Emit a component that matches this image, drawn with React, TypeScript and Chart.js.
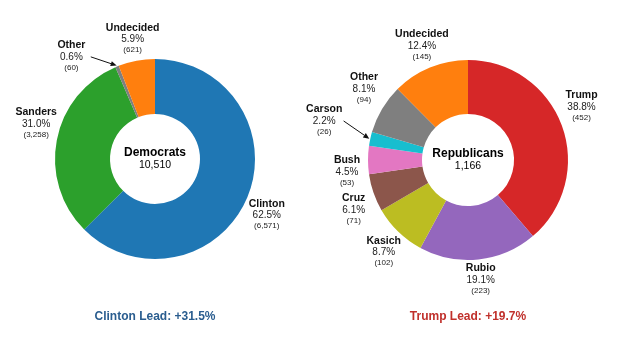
import React, { useEffect, useRef } from "react";
import { Chart, registerables } from "chart.js";

Chart.register(...registerables);

// ---- Data ----
const demCandidates = ["Clinton", "Sanders", "Other", "Undecided"];
const demVotes = [6571, 3258, 60, 621];
const demColors = ["#1f77b4", "#2ca02c", "#7f7f7f", "#ff7f0e"];

const repCandidates = ["Trump", "Rubio", "Kasich", "Cruz", "Bush", "Carson", "Other", "Undecided"];
const repVotes = [452, 223, 102, 71, 53, 26, 94, 145];
const repColors = ["#d62728", "#9467bd", "#bcbd22", "#8c564b", "#e377c2", "#17becf", "#7f7f7f", "#ff7f0e"];

const FONT = "'Liberation Sans', Arial, Helvetica, sans-serif";

const donutLabels = {
  id: "donutLabels",
  afterDatasetsDraw(chart: any, _args: any, opts: any) {
    const ctx: CanvasRenderingContext2D = chart.ctx;
    const meta = chart.getDatasetMeta(0);
    const data = chart.data.datasets[0].data as number[];
    const labels = chart.data.labels as string[];
    const total = data.reduce((a, b) => a + b, 0);
    let cx = 0, cy = 0;
    ctx.save();
    ctx.textAlign = "center";
    ctx.textBaseline = "middle";
    meta.data.forEach((el: any, i: number) => {
      const { x, y, startAngle, endAngle, outerRadius } = el.getProps(
        ["x", "y", "startAngle", "endAngle", "outerRadius"], true);
      cx = x; cy = y;
      const mid = (startAngle + endAngle) / 2;
      const frac = data[i] / total;
      const small = frac < opts.smallThreshold;
      let lx: number, ly: number;
      if (small) {
        const ang = mid + (opts.calloutShift * Math.PI) / 180;
        lx = x + Math.cos(ang) * opts.calloutRadius;
        ly = y + Math.sin(ang) * opts.calloutRadius;
      } else {
        const dx = Math.cos(mid), dy = Math.sin(mid);
        lx = x + dx * opts.labelRadius;
        ly = y + dy * opts.labelRadius + opts.sidePush * dx * dx * Math.sign(dy);
      }
      const pct = (frac * 100).toFixed(1) + "%";
      ctx.fillStyle = "#111";
      ctx.font = `bold 10.5px ${FONT}`;
      ctx.fillText(labels[i], lx, ly - 12);
      ctx.fillStyle = "#222";
      ctx.font = `10px ${FONT}`;
      ctx.fillText(pct, lx, ly);
      ctx.font = `8px ${FONT}`;
      ctx.fillText(`(${data[i].toLocaleString("en-US")})`, lx, ly + 10.5);
      if (small) {
        ctx.font = `10px ${FONT}`;
        const w = ctx.measureText(pct).width;
        const sx = lx + w / 2 + 8;
        const sy = ly;
        const ex = x + Math.cos(mid) * (outerRadius + 1);
        const ey = y + Math.sin(mid) * (outerRadius + 1);
        const a = Math.atan2(ey - sy, ex - sx);
        const hl = 6, hw = 2.6;
        const bx = ex - Math.cos(a) * hl, by = ey - Math.sin(a) * hl;
        ctx.strokeStyle = "#111";
        ctx.lineWidth = 1;
        ctx.beginPath();
        ctx.moveTo(sx, sy);
        ctx.lineTo(bx, by);
        ctx.stroke();
        ctx.fillStyle = "#111";
        ctx.beginPath();
        ctx.moveTo(ex, ey);
        ctx.lineTo(bx + Math.sin(a) * hw, by - Math.cos(a) * hw);
        ctx.lineTo(bx - Math.sin(a) * hw, by + Math.cos(a) * hw);
        ctx.closePath();
        ctx.fill();
      }
    });
    // centre text
    ctx.fillStyle = "#000";
    ctx.font = `bold 12px ${FONT}`;
    ctx.fillText(opts.centerTitle, cx, cy - 6.5);
    ctx.font = `10.5px ${FONT}`;
    ctx.fillText(total.toLocaleString("en-US"), cx, cy + 6.5);
    // lead
    const p0 = Math.round((data[0] / total) * 1000) / 10;
    const p1 = Math.round((data[1] / total) * 1000) / 10;
    const lead = (p0 - p1).toFixed(1);
    ctx.fillStyle = opts.leadColor;
    ctx.font = `bold 12px ${FONT}`;
    ctx.fillText(`${labels[0]} Lead: +${lead}%`, cx, opts.leadY);
    ctx.restore();
  },
};

function Donut(props: {
  labels: string[];
  values: number[];
  colors: string[];
  width: number;
  padding: { left: number; right: number; top: number; bottom: number };
  cutout: string;
  centerTitle: string;
  leadColor: string;
  calloutShift: number;
  calloutRadius: number;
  left: number;
}) {
  const ref = useRef<HTMLCanvasElement | null>(null);
  useEffect(() => {
    if (!ref.current) return;
    const chart = new Chart(ref.current, {
      type: "doughnut",
      data: {
        labels: props.labels,
        datasets: [
          {
            data: props.values,
            backgroundColor: props.colors,
            borderWidth: 0,
            hoverOffset: 0,
          },
        ],
      },
      options: {
        responsive: false,
        animation: false,
        cutout: props.cutout,
        layout: { padding: props.padding },
        events: [],
        plugins: {
          legend: { display: false },
          tooltip: { enabled: false },
          title: { display: false },
          donutLabels: {
            smallThreshold: 0.03,
            labelRadius: 121,
            sidePush: 12,
            calloutShift: props.calloutShift,
            calloutRadius: props.calloutRadius,
            centerTitle: props.centerTitle,
            leadColor: props.leadColor,
            leadY: 317,
          },
        } as any,
      },
      plugins: [donutLabels as any],
    });
    return () => chart.destroy();
  }, []);
  return (
    <canvas
      ref={ref}
      width={props.width}
      height={345}
      style={{ position: "absolute", left: props.left, top: 0, width: props.width, height: 345 }}
    />
  );
}

export default function App() {
  return (
    <div style={{ position: "absolute", left: 0, top: 0, width: 623, height: 345, background: "#fff", overflow: "hidden" }}>
      <Donut
        labels={demCandidates}
        values={demVotes}
        colors={demColors}
        width={311}
        left={0}
        padding={{ left: 55, right: 56, top: 59, bottom: 86 }}
        cutout="45%"
        centerTitle="Democrats"
        leadColor="#2a5d8f"
        calloutShift={-17}
        calloutRadius={132}
      />
      <Donut
        labels={repCandidates}
        values={repVotes}
        colors={repColors}
        width={332}
        left={291}
        padding={{ left: 77, right: 55, top: 60, bottom: 85 }}
        cutout="46%"
        centerTitle="Republicans"
        leadColor="#c0302b"
        calloutShift={3}
        calloutRadius={149}
      />
    </div>
  );
}
